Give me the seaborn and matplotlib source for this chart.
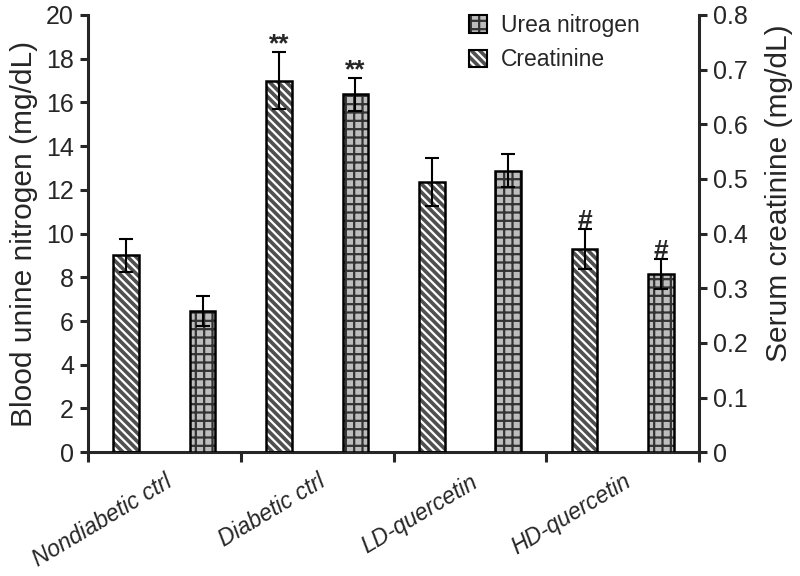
import numpy as np
import pandas as pd
import matplotlib.pyplot as plt
import matplotlib.transforms as mtransforms
from matplotlib.patches import Patch, Rectangle
from matplotlib.legend_handler import HandlerTuple
import seaborn as sns

# data
groups = ["Nondiabetic ctrl", "Diabetic ctrl", "LD-quercetin", "HD-quercetin"]
bun = [9.0, 17.0, 12.35, 9.3]          # left axis (mg/dL)
bun_err = [0.75, 1.3, 1.1, 0.9]
scr = [0.258, 0.655, 0.515, 0.326]     # right axis (mg/dL)
scr_err = [0.027, 0.03, 0.03, 0.028]
bun_marks = ["", "**", "", "#"]
scr_marks = ["", "**", "", "#"]
series = ["bun", "scr"]
legend_labels = ["Urea nitrogen", "Creatinine"]

sns.set_style("ticks")
plt.rcParams["font.family"] = ["Liberation Sans", "DejaVu Sans"]
plt.rcParams["hatch.linewidth"] = 1.6

df_bun = pd.DataFrame({"group": groups, "series": "bun", "value": bun})
df_scr = pd.DataFrame({"group": groups, "series": "scr", "value": scr})

fig = plt.figure(figsize=(8, 5.76), dpi=100)
ax = fig.add_axes([0.11, 0.215, 0.764, 0.759])
ax2 = ax.twinx()

pal = {"bun": "#505050", "scr": "#bdbdbd"}
sns.barplot(data=df_bun, x="group", y="value", hue="series", hue_order=series,
            order=groups, palette=pal, width=1.0, gap=0.667, dodge=True,
            linewidth=0, legend=False, ax=ax)
sns.barplot(data=df_scr, x="group", y="value", hue="series", hue_order=series,
            order=groups, palette=pal, width=1.0, gap=0.667, dodge=True,
            linewidth=0, legend=False, ax=ax2)

# hatch + black outline on each bar
def style_bars(a, fc, hc, hatch):
    bars = list(a.patches)
    for p in bars:
        p.set_facecolor(fc)
        p.set_edgecolor(hc)
        p.set_hatch(hatch)
        p.set_linewidth(0)
        a.add_patch(Rectangle(p.get_xy(), p.get_width(), p.get_height(),
                              fill=False, ec="black", lw=1.8, zorder=3))
    return bars

bars1 = style_bars(ax, "#505050", "white", "\\\\\\\\")
bars2 = style_bars(ax2, "#bdbdbd", "#333333", "++")

def add_err(a, bars, vals, errs, marks):
    xs = [p.get_x() + p.get_width() / 2 for p in bars]
    a.errorbar(xs, vals, yerr=errs, fmt="none", ecolor="black",
               elinewidth=1.5, capsize=5, capthick=1.5, zorder=5)
    for x, v, e, m in zip(xs, vals, errs, marks):
        if m:
            a.annotate(m, (x, v + e), xytext=(0, -3), textcoords="offset points",
                       ha="center", va="bottom", fontsize=19, fontweight="bold")

add_err(ax, bars1, bun, bun_err, bun_marks)
add_err(ax2, bars2, scr, scr_err, scr_marks)

# axes
ax.set_ylim(0, 20)
ax.set_yticks(range(0, 21, 2))
ax2.set_ylim(0, 0.8)
ticks2 = np.round(np.arange(0, 0.81, 0.1), 1)
ax2.set_yticks(ticks2)
ax2.set_yticklabels(["0" if t == 0 else f"{t:.1f}" for t in ticks2])

ax.set_xlim(-0.5, 3.5)
ax.set_xticks(range(len(groups)))
ax.set_xticks(np.arange(-0.5, 3.6, 1.0), minor=True)
ax.set_xticklabels(groups, rotation=31, ha="right", va="top",
                   rotation_mode="anchor", fontsize=16.5, style="italic")
offset = mtransforms.ScaledTranslation(12 / 100, 0, fig.dpi_scale_trans)
for lab in ax.get_xticklabels():
    lab.set_transform(lab.get_transform() + offset)
ax.tick_params(axis="x", which="major", length=0, pad=13)
ax.tick_params(axis="x", which="minor", length=7, width=2.2, direction="out")
ax.tick_params(axis="y", length=6, width=2.2, labelsize=18, pad=4)
ax2.tick_params(axis="y", length=6, width=2.2, labelsize=18, pad=4)

ax.set_xlabel("")
ax2.set_xlabel("")
ax.set_ylabel("Blood unine nitrogen (mg/dL)", fontsize=21.5, labelpad=6)
ax2.set_ylabel("Serum creatinine (mg/dL)", fontsize=21.5)
ax2.yaxis.set_label_coords(1.108, 0.593)

for s in ["top", "right"]:
    ax.spines[s].set_visible(False)
for s in ["top", "left", "bottom"]:
    ax2.spines[s].set_visible(False)
for s in ["left", "bottom"]:
    ax.spines[s].set_linewidth(2.2)
ax2.spines["right"].set_linewidth(2.2)

# legend (patterns as drawn in the figure)
h_urea = (Patch(fc="#bdbdbd", ec="#333333", hatch="++", lw=0),
          Patch(fill=False, ec="black", lw=1.5))
h_creat = (Patch(fc="#505050", ec="white", hatch="\\\\\\\\", lw=0),
           Patch(fill=False, ec="black", lw=1.5))
ax2.legend([h_urea, h_creat], legend_labels,
           handler_map={tuple: HandlerTuple(ndivide=1)},
           loc="upper left", bbox_to_anchor=(469 / 800, 1 - 14 / 576),
           bbox_transform=fig.transFigure, frameon=False, fontsize=16.5,
           handlelength=0.8, handleheight=0.8, handletextpad=0.6,
           labelspacing=0.5, borderaxespad=0, borderpad=0)

fig.savefig("out.png", dpi=100)
